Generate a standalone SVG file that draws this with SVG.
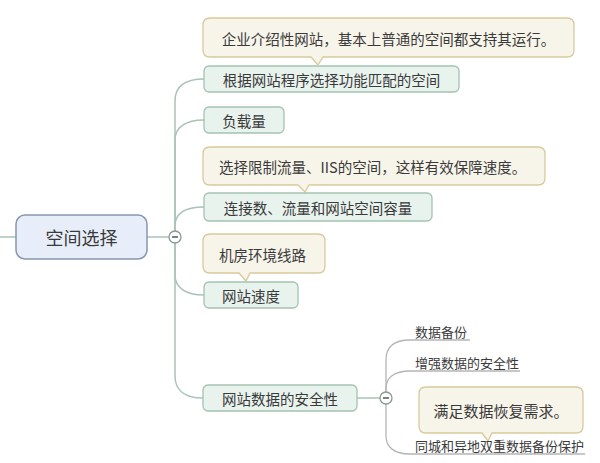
<svg xmlns="http://www.w3.org/2000/svg" width="600" height="463" viewBox="0 0 600 463">
<style>
text{font-family:"Noto Sans CJK SC","Noto Sans",sans-serif;fill:#3a3a3a;}
.t{font-size:14.5px;dominant-baseline:central;}
.s{font-size:13px;dominant-baseline:central;}
.box{fill:#e9f3ee;stroke:#a3c4b1;stroke-width:1.3;}
.call{fill:#f7f4ea;stroke:#d9c99b;stroke-width:1.3;}
.root{fill:#e8eef9;stroke:#8797b0;stroke-width:1.5;}
.con{fill:none;stroke:#a9c4b5;stroke-width:1.5;}
.con2{fill:none;stroke:#b5b5b5;stroke-width:1.3;}
.tog{fill:#ffffff;stroke:#8a9a92;stroke-width:1.3;}
.minus{stroke:#555;stroke-width:1.5;}
</style>
<rect width="600" height="463" fill="#ffffff"/>
<g id="connectors">
<path class="con" d="M0,237 H16"/>
<path class="con" d="M147,237 H169"/>
<path class="con" d="M175,231 V101 C175,86 186,79 204,79"/>
<path class="con" d="M175,231 V140 C175,127 186,120 204,120"/>
<path class="con" d="M175,231 V226 C175,213 186,207 204,207"/>
<path class="con" d="M175,243 V275 C175,288 186,295 204,295"/>
<path class="con" d="M175,243 V376 C175,391 186,398 203,398"/>
<path class="con" d="M357,398 H380"/>
<path class="con2" d="M386,392 V360 C386,347 394,340 410,340 H470"/>
<path class="con2" d="M386,392 V388 C386,378 394,371 410,371 H520"/>
<path class="con2" d="M386,404 V436 C386,447 394,454 410,454 H585"/>
</g>
<g id="root">
<rect class="root" x="16" y="215" width="131" height="44" rx="9"/>
<text x="81.5" y="237" style="font-size:18px;dominant-baseline:central" text-anchor="middle">空间选择</text>
</g>
<g id="toggle1">
<circle class="tog" cx="175" cy="237" r="6"/>
<line class="minus" x1="172" y1="237" x2="178" y2="237"/>
</g>
<g id="toggle2">
<circle class="tog" cx="386" cy="398" r="6"/>
<line class="minus" x1="383" y1="398" x2="389" y2="398"/>
</g>
<g id="n1">
<rect class="box" x="204" y="66" width="255" height="26" rx="5"/>
<text class="t" x="331.5" y="79" text-anchor="middle">根据网站程序选择功能匹配的空间</text>
</g>
<g id="c1">
<path class="call" d="M210,18 H567 Q574,18 574,25 V50 Q574,57 567,57 H323 L318,65 L311,57 H210 Q203,57 203,50 V25 Q203,18 210,18 Z"/>
<text class="t" x="388.5" y="38" text-anchor="middle">企业介绍性网站，基本上普通的空间都支持其运行。</text>
</g>
<g id="n2">
<rect class="box" x="204" y="107" width="80" height="26" rx="5"/>
<text class="t" x="244" y="120" text-anchor="middle">负载量</text>
</g>
<g id="c2">
<path class="call" d="M210,147 H538 Q545,147 545,154 V178 Q545,185 538,185 H309 L305,192 L298,185 H210 Q203,185 203,178 V154 Q203,147 210,147 Z"/>
<text class="t" x="219" y="166">选择限制流量、IIS的空间，这样有效保障速度。</text>
</g>
<g id="n3">
<rect class="box" x="204" y="193" width="228" height="28" rx="5"/>
<text class="t" x="318" y="207" text-anchor="middle">连接数、流量和网站空间容量</text>
</g>
<g id="c3">
<path class="call" d="M210,234 H318 Q325,234 325,241 V266 Q325,273 318,273 H250 L246,281 L239,273 H210 Q203,273 203,266 V241 Q203,234 210,234 Z"/>
<text class="t" x="219" y="254">机房环境线路</text>
</g>
<g id="n4">
<rect class="box" x="204" y="282" width="94" height="26" rx="5"/>
<text class="t" x="251" y="295" text-anchor="middle">网站速度</text>
</g>
<g id="n5">
<rect class="box" x="203" y="385" width="154" height="26" rx="5"/>
<text class="t" x="280" y="398" text-anchor="middle">网站数据的安全性</text>
</g>
<g id="s1">
<text class="s" x="415" y="331">数据备份</text>
</g>
<g id="s2">
<text class="s" x="415" y="362">增强数据的安全性</text>
</g>
<g id="c4">
<path class="call" d="M426,387 H576 Q583,387 583,394 V426 Q583,433 576,433 H492 L488,441 L482,433 H426 Q419,433 419,426 V394 Q419,387 426,387 Z"/>
<text x="501" y="410" style="font-size:15px;dominant-baseline:central" text-anchor="middle">满足数据恢复需求。</text>
</g>
<g id="s3">
<text class="s" x="415" y="445">同城和异地双重数据备份保护</text>
</g>
</svg>
